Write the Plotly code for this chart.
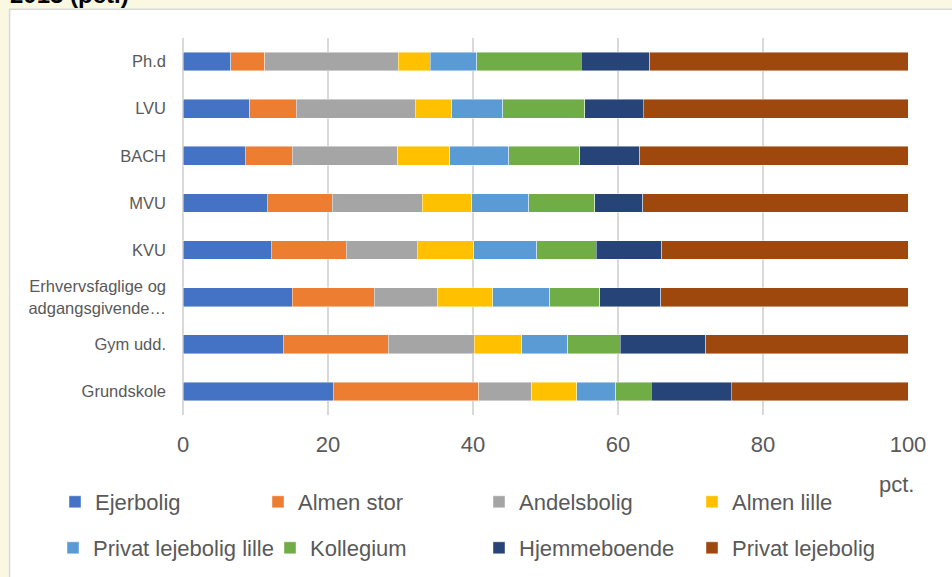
import plotly.graph_objects as go

# Education levels (bottom to top on the y axis)
categories = [
    "Grundskole",
    "Gym udd.",
    "Erhvervsfaglige og<br>adgangsgivende…",
    "KVU",
    "MVU",
    "BACH",
    "LVU",
    "Ph.d",
]

# Housing type shares in percent, one list per series, ordered like categories
ejerbolig = [20.7, 13.8, 15.1, 12.2, 11.6, 8.6, 9.2, 6.6]
almen_stor = [20.1, 14.5, 11.3, 10.3, 9.0, 6.5, 6.4, 4.7]
andelsbolig = [7.3, 11.9, 8.7, 9.8, 12.4, 14.5, 16.4, 18.4]
almen_lille = [6.2, 6.5, 7.6, 7.8, 6.8, 7.2, 5.1, 4.4]
privat_lille = [5.4, 6.4, 7.9, 8.7, 7.9, 8.1, 7.0, 6.4]
kollegium = [4.9, 7.2, 6.9, 8.2, 9.1, 9.8, 11.3, 14.4]
hjemmeboende = [11.0, 11.8, 8.4, 9.0, 6.6, 8.3, 8.1, 9.5]
privat_lejebolig = [24.4, 27.9, 34.1, 34.0, 36.6, 37.0, 36.5, 35.6]

x_ticks = [0, 20, 40, 60, 80, 100]

series_names = [
    "Ejerbolig", "Almen stor", "Andelsbolig", "Almen lille",
    "Privat lejebolig lille", "Kollegium", "Hjemmeboende", "Privat lejebolig",
]
series_values = [
    ejerbolig, almen_stor, andelsbolig, almen_lille,
    privat_lille, kollegium, hjemmeboende, privat_lejebolig,
]
series_colors = [
    "#4472C4", "#ED7D31", "#A5A5A5", "#FFC000",
    "#5B9BD5", "#70AD47", "#264478", "#9E480E",
]

# Legend grid: left edge of each entry (px) and row centre (px), two rows of four
legend_left = [55, 258, 479, 692, 53, 270, 479, 692]
legend_row = [502, 502, 502, 502, 548, 548, 548, 548]

W, H = 952, 577
L, R, T, B = 183.3, 44.3, 38.15, 162.1
PW = W - L - R
PH = H - T - B


def px_x(px):
    return (px - L) / PW


def px_y(py):
    return (H - B - py) / PH


FONT = "Liberation Sans, Arial, sans-serif"
GREY = "#595959"

fig = go.Figure()
legend_layout = {}
for i, (name, vals, color) in enumerate(zip(series_names, series_values, series_colors)):
    key = "legend" if i == 0 else f"legend{i + 1}"
    fig.add_trace(
        go.Bar(
            y=categories,
            x=vals,
            name=name,
            orientation="h",
            marker=dict(color=color, line=dict(color="rgba(255,255,255,0.55)", width=0.8)),
            legend=key,
            showlegend=True,
            hoverinfo="x+name",
        )
    )
    legend_layout[key] = dict(
        orientation="h",
        xref="container",
        yref="container",
        xanchor="left",
        yanchor="middle",
        x=legend_left[i] / W,
        y=1 - legend_row[i] / H,
        font=dict(family=FONT, size=22, color=GREY),
        bgcolor="rgba(0,0,0,0)",
        borderwidth=0,
        itemclick=False,
    )

fig.update_layout(
    width=W,
    height=H,
    autosize=False,
    showlegend=True,
    margin=dict(l=L, r=R, t=T, b=B, pad=0, autoexpand=False),
    barmode="stack",
    bargap=0.6,
    paper_bgcolor="#FAF8E1",
    plot_bgcolor="white",
    font=dict(family=FONT, color=GREY),
    xaxis=dict(
        range=[0, 100],
        tickvals=x_ticks,
        ticktext=[str(v) for v in x_ticks],
        showgrid=True,
        gridcolor="#D9D9D9",
        gridwidth=2,
        zeroline=True,
        zerolinecolor="#D9D9D9",
        zerolinewidth=2,
        showline=False,
        ticks="",
        ticklabelstandoff=14,
        tickfont=dict(family=FONT, size=22, color=GREY),
        fixedrange=True,
    ),
    yaxis=dict(
        showgrid=False,
        zeroline=False,
        showline=False,
        ticks="",
        ticklabelstandoff=16,
        tickfont=dict(family=FONT, size=16.5, color=GREY),
        fixedrange=True,
    ),
    shapes=[
        # white chart frame on the cream page
        dict(
            type="rect",
            xref="paper",
            yref="paper",
            x0=px_x(10),
            x1=px_x(960),
            y0=px_y(590),
            y1=px_y(9.5),
            fillcolor="white",
            line=dict(color="#D9D9D9", width=1.5),
            layer="below",
        )
    ],
    annotations=[
        dict(
            text="<b>2013 (pct.)</b>",
            xref="paper",
            yref="paper",
            x=px_x(8),
            y=px_y(10),
            xanchor="left",
            yanchor="bottom",
            showarrow=False,
            font=dict(family=FONT, size=24, color="black"),
        ),
        dict(
            text="pct.",
            xref="paper",
            yref="paper",
            x=px_x(896),
            y=px_y(484),
            xanchor="center",
            yanchor="middle",
            showarrow=False,
            font=dict(family=FONT, size=22, color=GREY),
        ),
    ],
    **legend_layout,
)

fig.write_html("out.html")
